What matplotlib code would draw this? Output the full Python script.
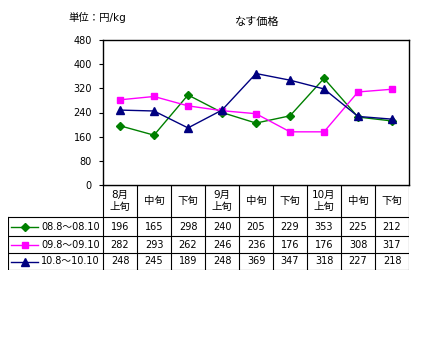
import matplotlib

matplotlib.use('Agg')
import matplotlib.pyplot as plt

plt.rcParams['font.family'] = ['DejaVu Sans', 'Noto Sans CJK JP']

categories = ['8月\n上旬', '中旬', '下旬', '9月\n上旬', '中旬', '下旬', '10月\n上旬', '中旬', '下旬']
series_names = ['08.8～08.10', '09.8～09.10', '10.8～10.10']
prices_08 = [196, 165, 298, 240, 205, 229, 353, 225, 212]
prices_09 = [282, 293, 262, 246, 236, 176, 176, 308, 317]
prices_10 = [248, 245, 189, 248, 369, 347, 318, 227, 218]
y_ticks = [0, 80, 160, 240, 320, 400, 480]

colors = ['#008000', '#FF00FF', '#000080']
markers = ['D', 's', '^']
msizes = [4, 5, 6]

W, H = 428, 349
fig = plt.figure(figsize=(W / 100, H / 100), dpi=100)

# plot area in pixels
px0, px1 = 103, 409
py_top, py_bot = 40, 185
ax = fig.add_axes([px0 / W, 1 - py_bot / H, (px1 - px0) / W, (py_bot - py_top) / H])

n = len(categories)
xs = list(range(n))
all_series = [prices_08, prices_09, prices_10]
for vals, c, m, ms in zip(all_series, colors, markers, msizes):
    ax.plot(xs, vals, color=c, marker=m, markersize=ms, linewidth=1)

ax.set_xlim(-0.5, n - 0.5)
ax.set_ylim(0, 480)
ax.set_yticks(y_ticks)
ax.set_yticklabels([str(t) for t in y_ticks], fontsize=7)
ax.tick_params(axis='y', length=3, width=0.8, pad=5)
ax.set_xticks([])
for s in ax.spines.values():
    s.set_linewidth(1)
    s.set_color('black')

fig.text(68 / W, 1 - 17 / H, '単位：円/kg', fontsize=7.5, va='center')
fig.text(257 / W, 1 - 22 / H, 'なす価格', fontsize=8, va='center', ha='center')

# data table drawn underneath
tx0, tx1 = 8, 409
ty0, ty1 = 185, 270
tax = fig.add_axes([tx0 / W, 1 - ty1 / H, (tx1 - tx0) / W, (ty1 - ty0) / H])
tax.set_xlim(tx0, tx1)
tax.set_ylim(ty1, ty0)
tax.axis('off')

col_w = (px1 - px0) / n
header_bot = 217
row_edges = [header_bot, 236, 253, 270]
lw = 0.8

# horizontal lines
tax.plot([px0, px1], [ty0, ty0], color='black', lw=lw)
for yy in row_edges:
    tax.plot([tx0, px1], [yy, yy], color='black', lw=lw)
# vertical lines
tax.plot([tx0, tx0], [header_bot, ty1], color='black', lw=lw)
for i in range(n + 1):
    xx = px0 + i * col_w
    tax.plot([xx, xx], [ty0, ty1], color='black', lw=lw)

for i, cat in enumerate(categories):
    tax.text(px0 + (i + 0.5) * col_w, (ty0 + header_bot) / 2, cat,
             ha='center', va='center', fontsize=7.5, linespacing=1.2)

for r, (name, vals, c, m, ms) in enumerate(zip(series_names, all_series, colors, markers, msizes)):
    yc = (row_edges[r] + row_edges[r + 1]) / 2
    tax.plot([11, 38], [yc, yc], color=c, lw=1)
    tax.plot([24.5], [yc], color=c, marker=m, markersize=ms)
    tax.text(41, yc, name, ha='left', va='center', fontsize=7)
    for i, v in enumerate(vals):
        tax.text(px0 + (i + 0.5) * col_w, yc, str(v), ha='center', va='center', fontsize=7)

fig.savefig('out.png', dpi=100)
